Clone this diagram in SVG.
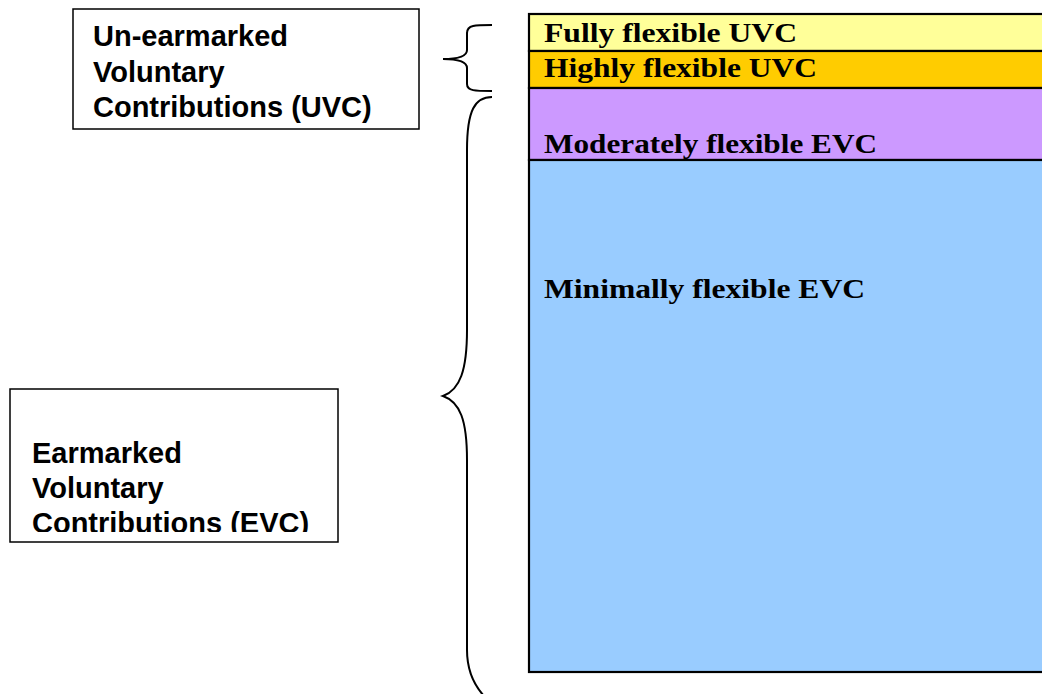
<svg xmlns="http://www.w3.org/2000/svg" width="1042" height="694" viewBox="0 0 1042 694">
<style>
.band{stroke:#000;stroke-width:2.2}
.serif{font-family:"Liberation Serif","Times New Roman",serif;font-weight:bold;font-size:28px;fill:#000}
.box{fill:#fff;stroke:#000;stroke-width:1.5}
.sans{font-family:"Liberation Sans",Arial,sans-serif;font-weight:bold;font-size:29px;fill:#000}
.brace{fill:none;stroke:#000;stroke-width:2}
</style>
<defs>
<clipPath id="evcClip"><rect x="10" y="389" width="328" height="143"/></clipPath>
</defs>
<rect width="1042" height="694" fill="#fff"/>
<g id="stack">
<g id="fully"><rect class="band" x="529" y="14" width="520" height="37" fill="#FFFF99"/><text class="serif" x="544" y="42" textLength="253" lengthAdjust="spacingAndGlyphs">Fully flexible UVC</text></g>
<g id="highly"><rect class="band" x="529" y="51" width="520" height="37" fill="#FFCC00"/><text class="serif" x="544" y="77" textLength="273" lengthAdjust="spacingAndGlyphs">Highly flexible UVC</text></g>
<g id="moderately"><rect class="band" x="529" y="88" width="520" height="72" fill="#CC99FF"/><text class="serif" x="544" y="153" textLength="333" lengthAdjust="spacingAndGlyphs">Moderately flexible EVC</text></g>
<g id="minimally"><rect class="band" x="529" y="160" width="520" height="512" fill="#99CCFF"/><text class="serif" x="544" y="298" textLength="321" lengthAdjust="spacingAndGlyphs">Minimally flexible EVC</text></g>
</g>
<g id="uvc-box"><rect class="box" x="73" y="9" width="346" height="120"/>
<text class="sans" x="93" y="46">Un-earmarked</text>
<text class="sans" x="93" y="82">Voluntary</text>
<text class="sans" x="93" y="117">Contributions (UVC)</text></g>
<g id="evc-box"><rect class="box" x="10" y="389" width="328" height="153"/>
<g clip-path="url(#evcClip)">
<text class="sans" x="32" y="463">Earmarked</text>
<text class="sans" x="32" y="498">Voluntary</text>
<text class="sans" x="32" y="533">Contributions (EVC)</text></g></g>
<g id="connectors">
<path class="brace" d="M492,25 C475,25 467,25 467,33 L467,50 C467,56 460,59 443,59 C460,59 467,62 467,68 L467,84 C467,91 475,91 492,91"/>
<path class="brace" d="M492,97 C475,97 467,110 467,150 L467,330 C467,370 460,390 443,396 C460,402 467,420 467,460 L467,650 C467,670 474,685 484,696"/>
</g>
</svg>
